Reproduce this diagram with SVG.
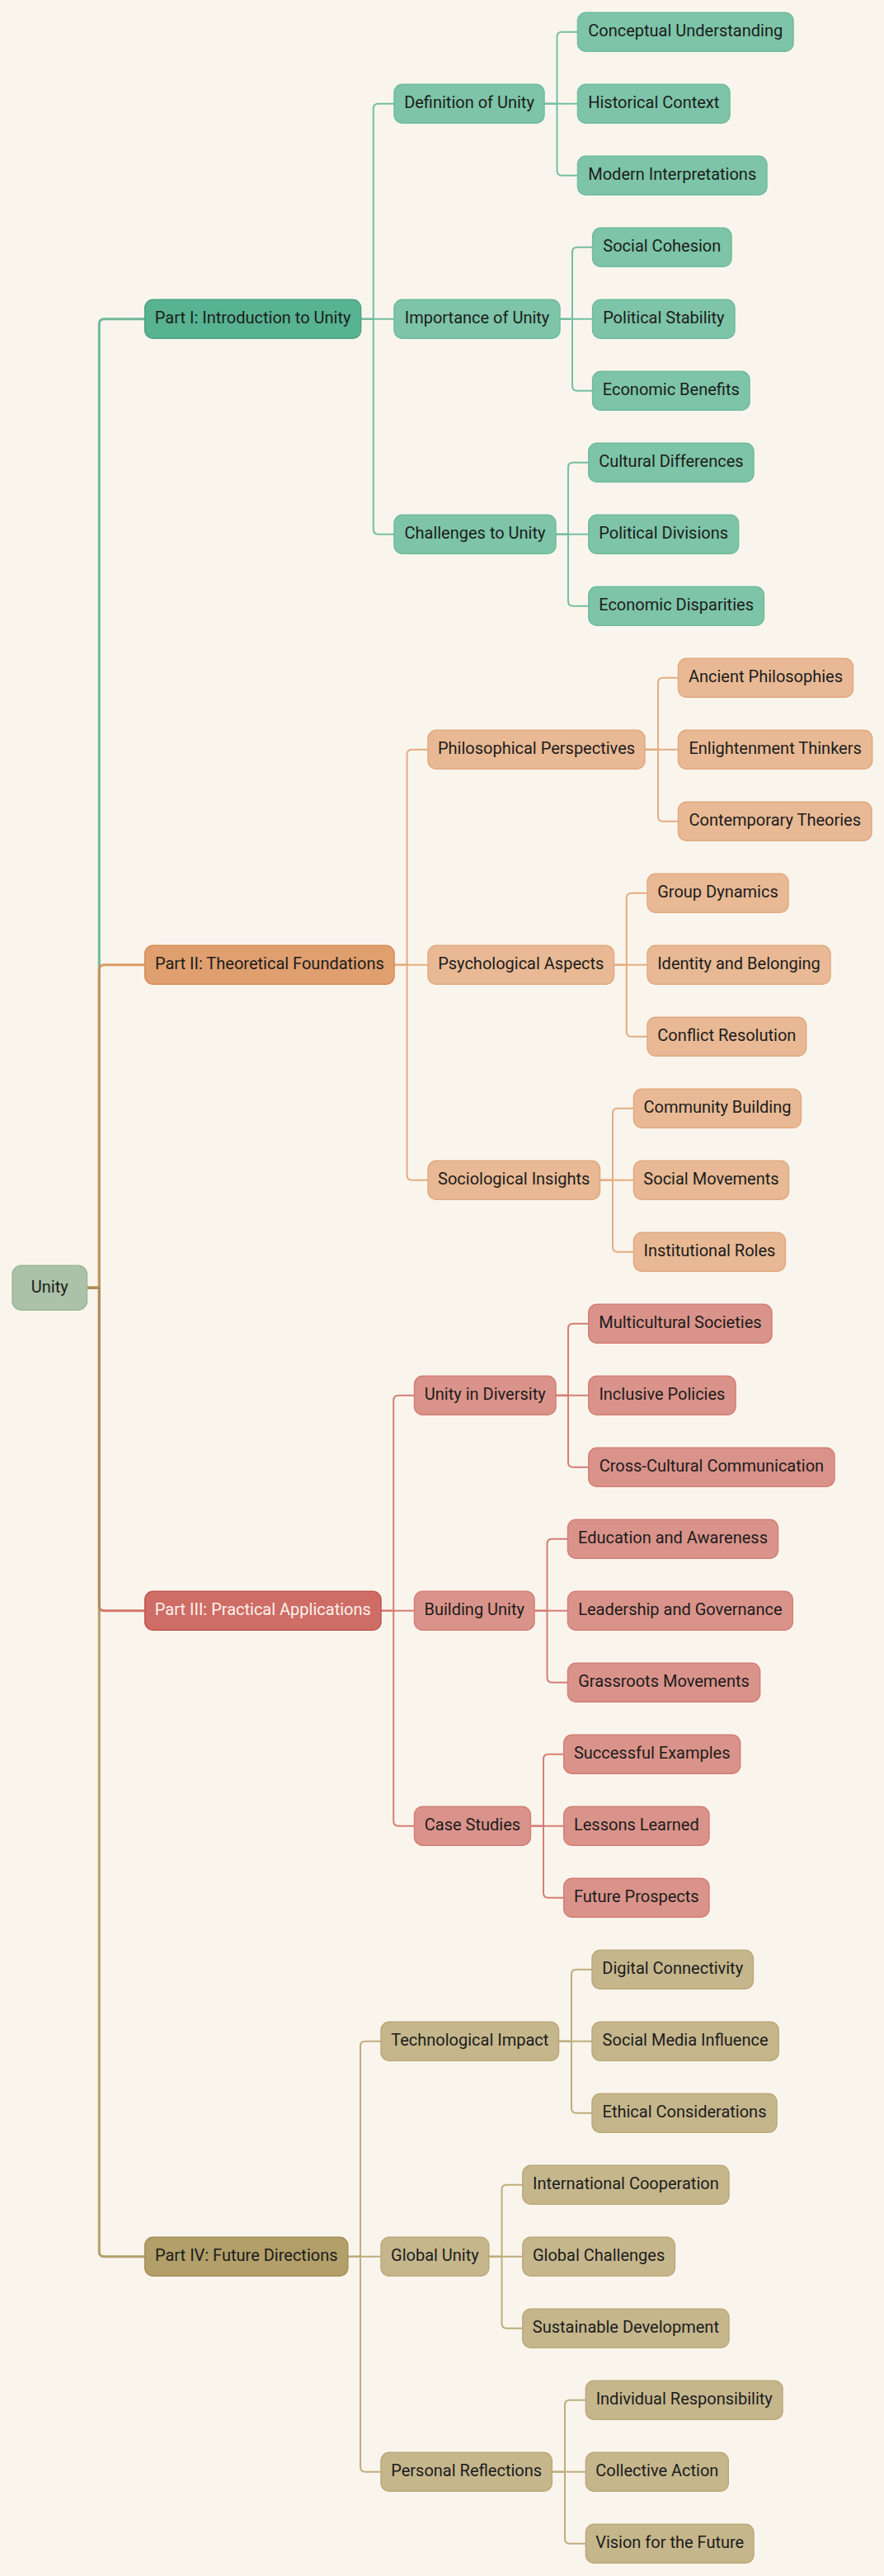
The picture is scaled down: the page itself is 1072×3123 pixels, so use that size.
<svg xmlns="http://www.w3.org/2000/svg" width="1072" height="3123" viewBox="0 0 1072 3123">
<style>
text{font-family:Roboto,"Liberation Sans",sans-serif;font-size:20px;fill:#1c1c1c;text-anchor:middle}
rect{stroke-width:1.5}
.e path{fill:none;stroke-width:2;stroke-linecap:butt}
.re path{fill:none;stroke-width:3;stroke-opacity:0.85}
.g1 rect{fill:#57b391;stroke:#4ca382}.g2 rect{fill:#7dc4a8;stroke:#70bb9d}
.o1 rect{fill:#e09f6f;stroke:#d88b55}.o2 rect{fill:#e8b994;stroke:#e1aa80}
.r1 rect{fill:#cd6d65;stroke:#c2564f}.r2 rect{fill:#da938a;stroke:#d37f76}
.y1 rect{fill:#b29f69;stroke:#a48f57}.y2 rect{fill:#c5b68c;stroke:#bba97a}
.r1 text{fill:#fdf1ec}
.root rect{fill:#abc2a8;stroke:#9db79a}
</style>
<rect width="1072" height="3123" fill="#f9f5ed" stroke="none"/>
<g id="connectors">
<g class="re">
<path stroke="#58ad8c" d="M105.5,1561.25 H120.3 V392.75 Q120.3,386.75 126.3,386.75 H175.7"/>
<path stroke="#d9894a" d="M105.5,1561.25 H120.3 V1175.75 Q120.3,1169.75 126.3,1169.75 H175.7"/>
<path stroke="#cc5f55" d="M105.5,1561.25 H120.3 V1946.75 Q120.3,1952.75 126.3,1952.75 H175.7"/>
<path stroke="#a89252" d="M105.5,1561.25 H120.3 V2729.75 Q120.3,2735.75 126.3,2735.75 H175.7"/>
</g>
<g class="e" stroke="#74bf9f">
<path d="M437.6,386.75 H452.8 V131.75 Q452.8,125.75 458.8,125.75 H478"/>
<path d="M437.6,386.75 H478"/>
<path d="M437.6,386.75 H452.8 V641.75 Q452.8,647.75 458.8,647.75 H478"/>
<path d="M660,125.75 H675.5 V44.75 Q675.5,38.75 681.5,38.75 H700.5"/>
<path d="M660,125.75 H700.5"/>
<path d="M660,125.75 H675.5 V206.75 Q675.5,212.75 681.5,212.75 H700.5"/>
<path d="M679,386.75 H694 V305.75 Q694,299.75 700,299.75 H718.6"/>
<path d="M679,386.75 H718.6"/>
<path d="M679,386.75 H694 V467.75 Q694,473.75 700,473.75 H718.6"/>
<path d="M674,647.75 H689 V566.75 Q689,560.75 695,560.75 H713.8"/>
<path d="M674,647.75 H713.8"/>
<path d="M674,647.75 H689 V728.75 Q689,734.75 695,734.75 H713.8"/>
</g>
<g class="e" stroke="#e5ac7f">
<path d="M478,1169.75 H493.6 V914.75 Q493.6,908.75 499.6,908.75 H519"/>
<path d="M478,1169.75 H519"/>
<path d="M478,1169.75 H493.6 V1424.75 Q493.6,1430.75 499.6,1430.75 H519"/>
<path d="M782,908.75 H798 V827.75 Q798,821.75 804,821.75 H822.5"/>
<path d="M782,908.75 H822.5"/>
<path d="M782,908.75 H798 V989.75 Q798,995.75 804,995.75 H822.5"/>
<path d="M744.5,1169.75 H759.8 V1088.75 Q759.8,1082.75 765.8,1082.75 H785"/>
<path d="M744.5,1169.75 H785"/>
<path d="M744.5,1169.75 H759.8 V1250.75 Q759.8,1256.75 765.8,1256.75 H785"/>
<path d="M727.5,1430.75 H743 V1349.75 Q743,1343.75 749,1343.75 H768.5"/>
<path d="M727.5,1430.75 H768.5"/>
<path d="M727.5,1430.75 H743 V1511.75 Q743,1517.75 749,1517.75 H768.5"/>
</g>
<g class="e" stroke="#d57e74">
<path d="M462,1952.75 H477.2 V1697.75 Q477.2,1691.75 483.2,1691.75 H502.5"/>
<path d="M462,1952.75 H502.5"/>
<path d="M462,1952.75 H477.2 V2207.75 Q477.2,2213.75 483.2,2213.75 H502.5"/>
<path d="M674,1691.75 H689 V1610.75 Q689,1604.75 695,1604.75 H713.8"/>
<path d="M674,1691.75 H713.8"/>
<path d="M674,1691.75 H689 V1772.75 Q689,1778.75 695,1778.75 H713.8"/>
<path d="M648,1952.75 H663.5 V1871.75 Q663.5,1865.75 669.5,1865.75 H688.5"/>
<path d="M648,1952.75 H688.5"/>
<path d="M648,1952.75 H663.5 V2033.75 Q663.5,2039.75 669.5,2039.75 H688.5"/>
<path d="M643.4,2213.75 H659 V2132.75 Q659,2126.75 665,2126.75 H683.7"/>
<path d="M643.4,2213.75 H683.7"/>
<path d="M643.4,2213.75 H659 V2294.75 Q659,2300.75 665,2300.75 H683.7"/>
</g>
<g class="e" stroke="#c0ad7c">
<path d="M421.8,2735.75 H437 V2480.75 Q437,2474.75 443,2474.75 H462"/>
<path d="M421.8,2735.75 H462"/>
<path d="M421.8,2735.75 H437 V2990.75 Q437,2996.75 443,2996.75 H462"/>
<path d="M677.5,2474.75 H693 V2393.75 Q693,2387.75 699,2387.75 H718"/>
<path d="M677.5,2474.75 H718"/>
<path d="M677.5,2474.75 H693 V2555.75 Q693,2561.75 699,2561.75 H718"/>
<path d="M592.8,2735.75 H608.5 V2654.75 Q608.5,2648.75 614.5,2648.75 H633.8"/>
<path d="M592.8,2735.75 H633.8"/>
<path d="M592.8,2735.75 H608.5 V2816.75 Q608.5,2822.75 614.5,2822.75 H633.8"/>
<path d="M669.3,2996.75 H685 V2915.75 Q685,2909.75 691,2909.75 H710.4"/>
<path d="M669.3,2996.75 H710.4"/>
<path d="M669.3,2996.75 H685 V3077.75 Q685,3083.75 691,3083.75 H710.4"/>
</g>
</g>

<g id="n-root" class="root"><rect x="15" y="1534.25" width="90.5" height="54" rx="11"/><text x="60.25" y="1566.75">Unity</text></g>

<g id="n-p1" class="g1"><rect x="175.7" y="363.25" width="261.9" height="47" rx="10"/><text x="306.65" y="392.25">Part I: Introduction to Unity</text></g>
<g id="n-p1a" class="g2"><rect x="478" y="102.25" width="182" height="47" rx="10"/><text x="569" y="131.25">Definition of Unity</text></g>
<g id="n-p1b" class="g2"><rect x="478" y="363.25" width="201" height="47" rx="10"/><text x="578.5" y="392.25">Importance of Unity</text></g>
<g id="n-p1c" class="g2"><rect x="478" y="624.25" width="196" height="47" rx="10"/><text x="576" y="653.25">Challenges to Unity</text></g>
<g id="n-p1a1" class="g2"><rect x="700.5" y="15.25" width="261.5" height="47" rx="10"/><text x="831.25" y="44.25">Conceptual Understanding</text></g>
<g id="n-p1a2" class="g2"><rect x="700.5" y="102.25" width="184.5" height="47" rx="10"/><text x="792.75" y="131.25">Historical Context</text></g>
<g id="n-p1a3" class="g2"><rect x="700.5" y="189.25" width="229.5" height="47" rx="10"/><text x="815.25" y="218.25">Modern Interpretations</text></g>
<g id="n-p1b1" class="g2"><rect x="718.6" y="276.25" width="168.4" height="47" rx="10"/><text x="802.8" y="305.25">Social Cohesion</text></g>
<g id="n-p1b2" class="g2"><rect x="718.6" y="363.25" width="172.4" height="47" rx="10"/><text x="804.8" y="392.25">Political Stability</text></g>
<g id="n-p1b3" class="g2"><rect x="718.6" y="450.25" width="190.4" height="47" rx="10"/><text x="813.8" y="479.25">Economic Benefits</text></g>
<g id="n-p1c1" class="g2"><rect x="713.8" y="537.25" width="200.2" height="47" rx="10"/><text x="813.9" y="566.25">Cultural Differences</text></g>
<g id="n-p1c2" class="g2"><rect x="713.8" y="624.25" width="181.8" height="47" rx="10"/><text x="804.7" y="653.25">Political Divisions</text></g>
<g id="n-p1c3" class="g2"><rect x="713.8" y="711.25" width="212.6" height="47" rx="10"/><text x="820.1" y="740.25">Economic Disparities</text></g>

<g id="n-p2" class="o1"><rect x="175.7" y="1146.25" width="302.3" height="47" rx="10"/><text x="326.85" y="1175.25">Part II: Theoretical Foundations</text></g>
<g id="n-p2a" class="o2"><rect x="519" y="885.25" width="263" height="47" rx="10"/><text x="650.5" y="914.25">Philosophical Perspectives</text></g>
<g id="n-p2b" class="o2"><rect x="519" y="1146.25" width="225.5" height="47" rx="10"/><text x="631.75" y="1175.25">Psychological Aspects</text></g>
<g id="n-p2c" class="o2"><rect x="519" y="1407.25" width="208.5" height="47" rx="10"/><text x="623.25" y="1436.25">Sociological Insights</text></g>
<g id="n-p2a1" class="o2"><rect x="822.5" y="798.25" width="212" height="47" rx="10"/><text x="928.5" y="827.25">Ancient Philosophies</text></g>
<g id="n-p2a2" class="o2"><rect x="822.5" y="885.25" width="235.2" height="47" rx="10"/><text x="940.1" y="914.25">Enlightenment Thinkers</text></g>
<g id="n-p2a3" class="o2"><rect x="822.5" y="972.25" width="234.5" height="47" rx="10"/><text x="939.75" y="1001.25">Contemporary Theories</text></g>
<g id="n-p2b1" class="o2"><rect x="785" y="1059.25" width="171" height="47" rx="10"/><text x="870.5" y="1088.25">Group Dynamics</text></g>
<g id="n-p2b2" class="o2"><rect x="785" y="1146.25" width="222" height="47" rx="10"/><text x="896" y="1175.25">Identity and Belonging</text></g>
<g id="n-p2b3" class="o2"><rect x="785" y="1233.25" width="192.7" height="47" rx="10"/><text x="881.35" y="1262.25">Conflict Resolution</text></g>
<g id="n-p2c1" class="o2"><rect x="768.5" y="1320.25" width="203" height="47" rx="10"/><text x="870" y="1349.25">Community Building</text></g>
<g id="n-p2c2" class="o2"><rect x="768.5" y="1407.25" width="188" height="47" rx="10"/><text x="862.5" y="1436.25">Social Movements</text></g>
<g id="n-p2c3" class="o2"><rect x="768.5" y="1494.25" width="183.9" height="47" rx="10"/><text x="860.45" y="1523.25">Institutional Roles</text></g>

<g id="n-p3" class="r1"><rect x="175.7" y="1929.25" width="286.3" height="47" rx="10"/><text x="318.85" y="1958.25">Part III: Practical Applications</text></g>
<g id="n-p3a" class="r2"><rect x="502.5" y="1668.25" width="171.5" height="47" rx="10"/><text x="588.25" y="1697.25">Unity in Diversity</text></g>
<g id="n-p3b" class="r2"><rect x="502.5" y="1929.25" width="145.5" height="47" rx="10"/><text x="575.25" y="1958.25">Building Unity</text></g>
<g id="n-p3c" class="r2"><rect x="502.5" y="2190.25" width="140.9" height="47" rx="10"/><text x="572.95" y="2219.25">Case Studies</text></g>
<g id="n-p3a1" class="r2"><rect x="713.8" y="1581.25" width="222.2" height="47" rx="10"/><text x="824.9" y="1610.25">Multicultural Societies</text></g>
<g id="n-p3a2" class="r2"><rect x="713.8" y="1668.25" width="178.2" height="47" rx="10"/><text x="802.9" y="1697.25">Inclusive Policies</text></g>
<g id="n-p3a3" class="r2"><rect x="713.8" y="1755.25" width="298.2" height="47" rx="10"/><text x="862.9" y="1784.25">Cross-Cultural Communication</text></g>
<g id="n-p3b1" class="r2"><rect x="688.5" y="1842.25" width="255" height="47" rx="10"/><text x="816" y="1871.25">Education and Awareness</text></g>
<g id="n-p3b2" class="r2"><rect x="688.5" y="1929.25" width="272.8" height="47" rx="10"/><text x="824.9" y="1958.25">Leadership and Governance</text></g>
<g id="n-p3b3" class="r2"><rect x="688.5" y="2016.25" width="233.1" height="47" rx="10"/><text x="805.05" y="2045.25">Grassroots Movements</text></g>
<g id="n-p3c1" class="r2"><rect x="683.7" y="2103.25" width="214" height="47" rx="10"/><text x="790.7" y="2132.25">Successful Examples</text></g>
<g id="n-p3c2" class="r2"><rect x="683.7" y="2190.25" width="176.3" height="47" rx="10"/><text x="771.85" y="2219.25">Lessons Learned</text></g>
<g id="n-p3c3" class="r2"><rect x="683.7" y="2277.25" width="176.3" height="47" rx="10"/><text x="771.85" y="2306.25">Future Prospects</text></g>

<g id="n-p4" class="y1"><rect x="175.7" y="2712.25" width="246.1" height="47" rx="10"/><text x="298.75" y="2741.25">Part IV: Future Directions</text></g>
<g id="n-p4a" class="y2"><rect x="462" y="2451.25" width="215.5" height="47" rx="10"/><text x="569.75" y="2480.25">Technological Impact</text></g>
<g id="n-p4b" class="y2"><rect x="462" y="2712.25" width="130.8" height="47" rx="10"/><text x="527.4" y="2741.25">Global Unity</text></g>
<g id="n-p4c" class="y2"><rect x="462" y="2973.25" width="207.3" height="47" rx="10"/><text x="565.65" y="3002.25">Personal Reflections</text></g>
<g id="n-p4a1" class="y2"><rect x="718" y="2364.25" width="195.4" height="47" rx="10"/><text x="815.7" y="2393.25">Digital Connectivity</text></g>
<g id="n-p4a2" class="y2"><rect x="718" y="2451.25" width="226.2" height="47" rx="10"/><text x="831.1" y="2480.25">Social Media Influence</text></g>
<g id="n-p4a3" class="y2"><rect x="718" y="2538.25" width="224" height="47" rx="10"/><text x="830" y="2567.25">Ethical Considerations</text></g>
<g id="n-p4b1" class="y2"><rect x="633.8" y="2625.25" width="250.2" height="47" rx="10"/><text x="758.9" y="2654.25">International Cooperation</text></g>
<g id="n-p4b2" class="y2"><rect x="633.8" y="2712.25" width="184.6" height="47" rx="10"/><text x="726.1" y="2741.25">Global Challenges</text></g>
<g id="n-p4b3" class="y2"><rect x="633.8" y="2799.25" width="250.2" height="47" rx="10"/><text x="758.9" y="2828.25">Sustainable Development</text></g>
<g id="n-p4c1" class="y2"><rect x="710.4" y="2886.25" width="238.6" height="47" rx="10"/><text x="829.7" y="2915.25">Individual Responsibility</text></g>
<g id="n-p4c2" class="y2"><rect x="710.4" y="2973.25" width="172.9" height="47" rx="10"/><text x="796.85" y="3002.25">Collective Action</text></g>
<g id="n-p4c3" class="y2"><rect x="710.4" y="3060.25" width="203.6" height="47" rx="10"/><text x="812.2" y="3089.25">Vision for the Future</text></g>
</svg>
